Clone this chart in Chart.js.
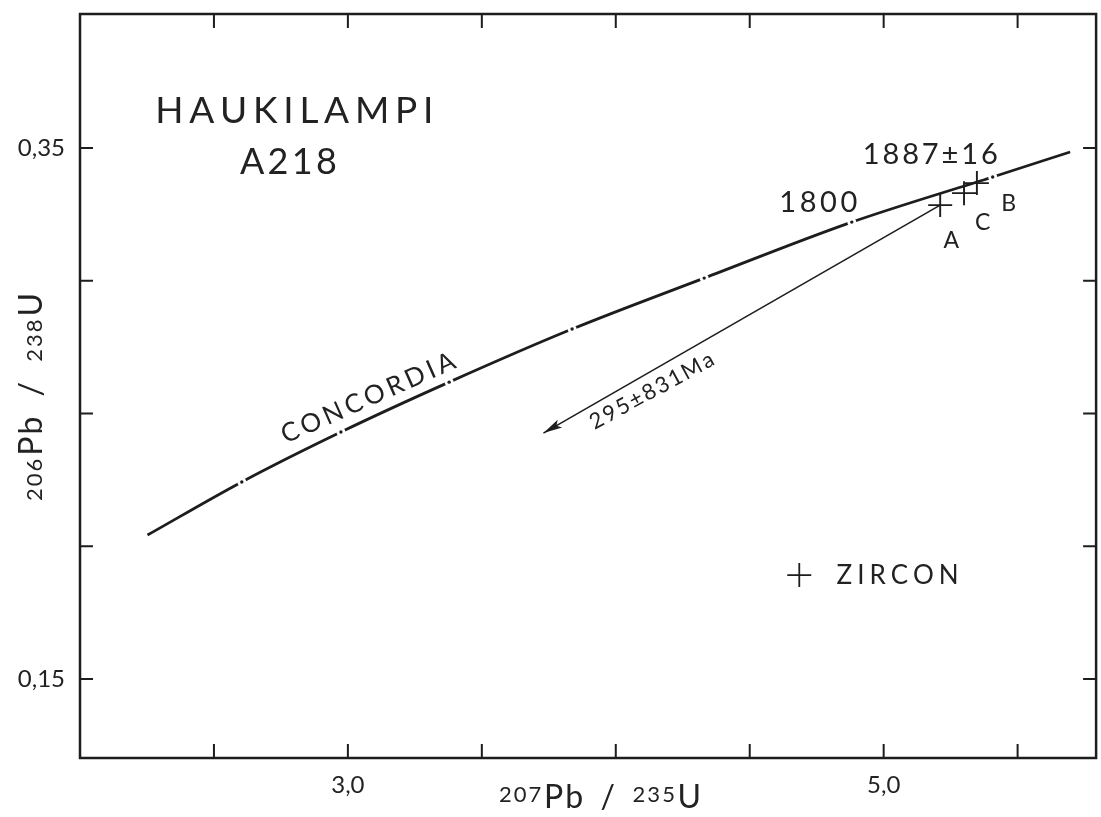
<!DOCTYPE html>
<html>
<head>
<meta charset="utf-8">
<script src="https://cdn.jsdelivr.net/npm/chart.js@4.4.1/dist/chart.umd.min.js"></script>
<style>
  html, body { margin: 0; padding: 0; background: #fff; overflow: hidden; }
  #wrap { position: relative; width: 1110px; height: 817px; }
</style>
</head>
<body>
<div id="wrap"><canvas id="concordiaChart" width="1110" height="817"></canvas></div>
<script>
// concordia curve, 207Pb/235U against 206Pb/238U
var concordiaX = [2.252, 2.604, 2.974, 3.378, 3.837, 4.330, 4.881, 5.407, 5.696];
var concordiaY = [0.2042, 0.2242, 0.2430, 0.2618, 0.2818, 0.3010, 0.3221, 0.3391, 0.3485];

// age marks along the curve (small gap with a dot)
var ageMarkX = [2.604, 2.974, 3.378, 3.837, 4.330, 4.881, 5.407];
var ageMarkY = [0.2242, 0.2430, 0.2618, 0.2818, 0.3010, 0.3221, 0.3391];

// zircon fractions
var zirconNames = ['A', 'C', 'B'];
var zirconX = [5.211, 5.300, 5.348];
var zirconY = [0.3285, 0.3330, 0.3368];

// discordia, from A down towards the lower intercept
var discordiaX = [5.211, 3.730];
var discordiaY = [0.3285, 0.2426];

var xTicks = [2.5, 3.0, 3.5, 4.0, 4.5, 5.0, 5.5];
var xTickLabels = ['', '3,0', '', '', '', '5,0', ''];
var yTicks = [0.15, 0.20, 0.25, 0.30, 0.35];
var yTickLabels = ['0,15', '', '', '', '0,35'];

var ink = '#1d1d1d';

function pts(xs, ys) {
    return xs.map(function (x, i) { return { x: x, y: ys[i] }; });
}

// text labels placed in data units
var notes = [
    { text: 'HAUKILAMPI', x: 2.800, y: 0.3643, size: 37, width: 278 },
    { text: 'A218', x: 2.778, y: 0.3451, size: 36, width: 97 },
    { text: '1887±16', x: 5.174, y: 0.3481, size: 29, width: 135 },
    { text: '1800', x: 4.756, y: 0.3297, size: 29, width: 78 },
    { text: 'CONCORDIA', x: 3.074, y: 0.2562, size: 26, width: 188, angle: -24 },
    { text: '295±831Ma', x: 4.133, y: 0.2588, size: 22, width: 138, angle: -28.5 },
    { text: zirconNames[0], x: 5.252, y: 0.3153, size: 23 },
    { text: zirconNames[1], x: 5.370, y: 0.3221, size: 23 },
    { text: zirconNames[2], x: 5.467, y: 0.3293, size: 23 },
    { text: 'ZIRCON', x: 5.052, y: 0.1891, size: 26, width: 122 }
];
var legendCross = { x: 4.685, y: 0.1891 };

function spaced(ctx, text, cx, cy, size, width, angle) {
    ctx.save();
    ctx.translate(cx, cy);
    if (angle) ctx.rotate(angle * Math.PI / 180);
    ctx.font = size + 'px Lato';
    ctx.textAlign = 'left';
    ctx.textBaseline = 'alphabetic';
    var chars = Array.from(text);
    var widths = chars.map(function (c) { return ctx.measureText(c).width; });
    var sum = widths.reduce(function (a, b) { return a + b; }, 0);
    var gap = (width && chars.length > 1) ? (width - sum) / (chars.length - 1) : 0;
    var x = -(sum + gap * (chars.length - 1)) / 2;
    chars.forEach(function (c, i) {
        ctx.fillText(c, x, size * 0.36);
        x += widths[i] + gap;
    });
    ctx.restore();
}

// axis title with small isotope numbers; parts spread to fill the width
function isoTitle(ctx, parts, cx, baseY, width, angle) {
    ctx.save();
    ctx.translate(cx, baseY);
    if (angle) ctx.rotate(angle * Math.PI / 180);
    ctx.textAlign = 'left';
    ctx.textBaseline = 'alphabetic';
    var inner = 2;
    parts.forEach(function (p) {
        ctx.font = p.size + 'px Lato';
        p.chars = Array.from(p.t).map(function (c) { return { c: c, w: ctx.measureText(c).width }; });
        p.w = p.chars.reduce(function (a, b) { return a + b.w; }, 0) + inner * (p.chars.length - 1);
    });
    var sum = parts.reduce(function (a, p) { return a + p.w; }, 0);
    var weights = parts.map(function (p) { return p.gapAfter || 0; });
    var wsum = weights.reduce(function (a, b) { return a + b; }, 0);
    var free = width - sum;
    var x = -width / 2;
    parts.forEach(function (p, i) {
        ctx.font = p.size + 'px Lato';
        p.chars.forEach(function (ch) {
            ctx.fillText(ch.c, x, -(p.rise || 0));
            x += ch.w + inner;
        });
        x -= inner;
        x += free * weights[i] / wsum;
    });
    ctx.restore();
}

var framePlugin = {
    id: 'frame',
    afterDraw: function (chart) {
        var ctx = chart.ctx, a = chart.chartArea;
        var sx = chart.scales.x, sy = chart.scales.y;
        ctx.save();
        ctx.strokeStyle = ink;
        ctx.fillStyle = ink;

        // frame
        ctx.lineWidth = 2.5;
        ctx.strokeRect(a.left, a.top, a.right - a.left, a.bottom - a.top);

        // inward ticks on all sides
        ctx.lineWidth = 2;
        ctx.beginPath();
        xTicks.forEach(function (v) {
            var px = sx.getPixelForValue(v);
            ctx.moveTo(px, a.bottom); ctx.lineTo(px, a.bottom - 14);
            ctx.moveTo(px, a.top); ctx.lineTo(px, a.top + 14);
        });
        yTicks.forEach(function (v) {
            var py = sy.getPixelForValue(v);
            ctx.moveTo(a.left, py); ctx.lineTo(a.left + 13, py);
            ctx.moveTo(a.right, py); ctx.lineTo(a.right - 13, py);
        });
        ctx.stroke();

        // arrow head on the discordia
        var meta = chart.getDatasetMeta(3);
        var p0 = meta.data[0], p1 = meta.data[1];
        var ang = Math.atan2(p1.y - p0.y, p1.x - p0.x);
        ctx.save();
        ctx.translate(p1.x, p1.y);
        ctx.rotate(ang);
        ctx.beginPath();
        ctx.moveTo(0, 0);
        ctx.lineTo(-19, -4.5);
        ctx.lineTo(-15, 0);
        ctx.lineTo(-19, 4.5);
        ctx.closePath();
        ctx.fill();
        ctx.restore();

        // text labels
        ctx.fillStyle = '#222';
        notes.forEach(function (n) {
            spaced(ctx, n.text, sx.getPixelForValue(n.x), sy.getPixelForValue(n.y), n.size, n.width, n.angle);
        });

        // legend cross
        var lx = sx.getPixelForValue(legendCross.x), ly = sy.getPixelForValue(legendCross.y);
        ctx.lineWidth = 1.8;
        ctx.beginPath();
        ctx.moveTo(lx - 12, ly); ctx.lineTo(lx + 12, ly);
        ctx.moveTo(lx, ly - 12); ctx.lineTo(lx, ly + 12);
        ctx.stroke();

        // axis titles
        isoTitle(ctx, [
            { t: '207', size: 22, rise: 6, gapAfter: 0.15 }, { t: 'Pb', size: 32, gapAfter: 1 },
            { t: '/', size: 32, gapAfter: 1 },
            { t: '235', size: 22, rise: 6, gapAfter: 0.15 }, { t: 'U', size: 32 }
        ], (a.left + a.right) / 2 + 12, 808, 202, 0);
        isoTitle(ctx, [
            { t: '206', size: 22, gapAfter: 0.15 }, { t: 'Pb', size: 32, gapAfter: 1 },
            { t: '/', size: 32, gapAfter: 1 },
            { t: '238', size: 22, gapAfter: 0.15 }, { t: 'U', size: 32 }
        ], 42, 397, 208, -90);

        ctx.restore();
    }
};

var ctx = document.getElementById('concordiaChart').getContext('2d');
var chart = new Chart(ctx, {
    type: 'scatter',
    data: {
        datasets: [
            {
                label: 'Concordia',
                data: pts(concordiaX, concordiaY),
                showLine: true,
                borderColor: ink,
                borderWidth: 2.8,
                pointRadius: 0,
                cubicInterpolationMode: 'monotone',
                order: 5
            },
            {
                label: 'gaps',
                data: pts(ageMarkX, ageMarkY),
                pointRadius: 4.5,
                backgroundColor: '#ffffff',
                borderWidth: 0,
                order: 4
            },
            {
                label: 'age marks',
                data: pts(ageMarkX, ageMarkY),
                pointRadius: 1.7,
                backgroundColor: ink,
                borderWidth: 0,
                order: 3
            },
            {
                label: 'Discordia',
                data: pts(discordiaX, discordiaY),
                showLine: true,
                borderColor: ink,
                borderWidth: 1.6,
                pointRadius: 0,
                order: 2
            },
            {
                label: 'Zircon',
                data: pts(zirconX, zirconY),
                pointStyle: 'cross',
                pointRadius: 12,
                borderColor: ink,
                borderWidth: 1.9,
                order: 1
            }
        ]
    },
    options: {
        responsive: false,
        animation: false,
        devicePixelRatio: 1,
        layout: { padding: { top: 14, right: 6, left: 0, bottom: 0 } },
        plugins: {
            legend: { display: false },
            tooltip: { enabled: false }
        },
        scales: {
            x: {
                type: 'linear',
                min: 2.0,
                max: 5.793,
                afterBuildTicks: function (s) { s.ticks = xTicks.map(function (v) { return { value: v }; }); },
                afterFit: function (s) {
                    s.height = 59;
                    s.paddingLeft = 0; s.paddingRight = 0;
                },
                grid: { display: false, drawTicks: false },
                border: { display: false },
                ticks: {
                    autoSkip: false,
                    maxRotation: 0,
                    padding: 13,
                    color: '#222',
                    font: { family: 'Lato', size: 24 },
                    callback: function (v, i) { return xTickLabels[i]; }
                }
            },
            y: {
                type: 'linear',
                min: 0.1202,
                max: 0.4005,
                afterBuildTicks: function (s) { s.ticks = yTicks.map(function (v) { return { value: v }; }); },
                afterFit: function (s) {
                    s.width = 80;
                    s.paddingTop = 0; s.paddingBottom = 0;
                },
                grid: { display: false, drawTicks: false },
                border: { display: false },
                ticks: {
                    autoSkip: false,
                    padding: 15,
                    color: '#222',
                    font: { family: 'Lato', size: 24 },
                    callback: function (v, i) { return yTickLabels[i]; }
                }
            }
        }
    },
    plugins: [framePlugin]
});
</script>
</body>
</html>
